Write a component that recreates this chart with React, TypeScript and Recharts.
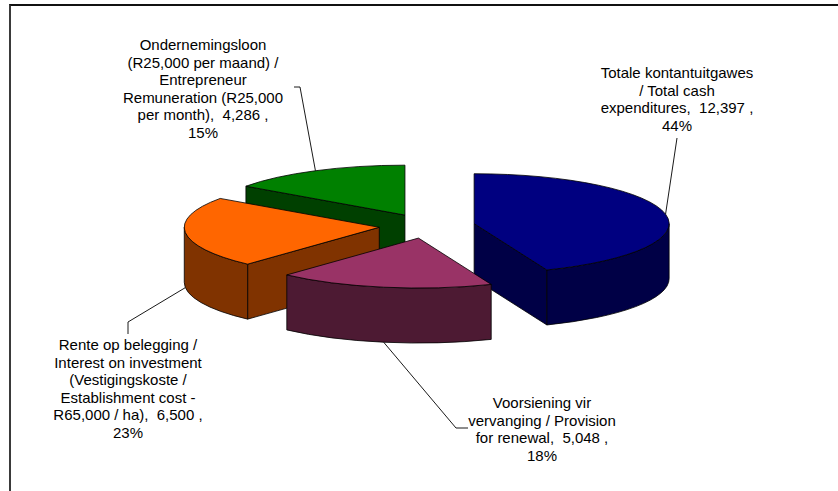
import { PieChart, Pie } from 'recharts'

// slice names, split the way the labels wrap
const nameLines = [
  ['Totale kontantuitgawes', '/ Total cash', 'expenditures'],
  ['Voorsiening vir', 'vervanging / Provision', 'for renewal'],
  ['Rente op belegging /', 'Interest on investment', '(Vestigingskoste /', 'Establishment cost -', 'R65,000 / ha)'],
  ['Ondernemingsloon', '(R25,000 per maand) /', 'Entrepreneur', 'Remuneration (R25,000', 'per month)'],
]
const values = [12397, 5048, 6500, 4286]

const TOP_COLORS = ['#000080', '#993366', '#FF6600', '#008000']
const SIDE_COLORS = ['#000046', '#4D1A33', '#803300', '#004000']

// back-to-front paint order (green, blue, orange, purple)
const DRAW_ORDER = [3, 0, 2, 1]

// label text placement + leader elbows
const labelLayout = [
  { x: 677, y: 78, leader: [[677, 138]] },
  { x: 542, y: 408, leader: [[456, 428], [468, 428]] },
  { x: 128, y: 350, leader: [[128, 322], [128, 334]] },
  { x: 203, y: 50, leader: [[300, 87], [294, 87]] },
]

const FLAT = 0.256
const DEPTH = 55
const EXPLODE = 48
const LINE_H = 17.6
const RAD = Math.PI / 180

const chartData = nameLines.map((lines, i) => ({ name: lines.join(' '), value: values[i] }))

function project(cx: number, cy: number, r: number, deg: number) {
  return [cx + r * Math.cos(deg * RAD), cy - FLAT * r * Math.sin(deg * RAD)]
}

function apexOf(p: any) {
  return project(p.cx, p.cy, EXPLODE, p.midAngle)
}

function Slice3D(p: any) {
  const [ax, ay] = apexOf(p)
  const r = p.outerRadius
  const rx = r
  const ry = r * FLAT
  const pt = (deg: number) => project(ax, ay, r, deg)
  const s = p.startAngle
  const e = p.endAngle
  const i = p.index
  const stroke = { stroke: '#000', strokeWidth: 0.8, strokeLinejoin: 'round' as const }

  const walls: any[] = []
  const radialWall = (a: number, key: string) => {
    const [x, y] = pt(a)
    walls.push(
      <path
        key={key}
        d={`M${ax},${ay} L${x},${y} L${x},${y + DEPTH} L${ax},${ay + DEPTH} Z`}
        fill={SIDE_COLORS[i]}
        {...stroke}
      />
    )
  }
  if (Math.cos(s * RAD) < -0.01) radialWall(s, 'ws')
  if (Math.cos(e * RAD) > 0.01) radialWall(e, 'we')

  const a1 = Math.min(s, 0)
  const a2 = Math.max(e, -180)
  if (a1 > a2) {
    const [x1, y1] = pt(a1)
    const [x2, y2] = pt(a2)
    walls.push(
      <path
        key="wo"
        d={`M${x1},${y1} A${rx},${ry} 0 0 1 ${x2},${y2} L${x2},${y2 + DEPTH} A${rx},${ry} 0 0 0 ${x1},${y1 + DEPTH} Z`}
        fill={SIDE_COLORS[i]}
        {...stroke}
      />
    )
  }

  const [sx, sy] = pt(s)
  const [ex, ey] = pt(e)
  const large = s - e > 180 ? 1 : 0
  return (
    <g>
      {walls}
      <path
        d={`M${ax},${ay} L${sx},${sy} A${rx},${ry} 0 ${large} 1 ${ex},${ey} Z`}
        fill={TOP_COLORS[i]}
        {...stroke}
      />
    </g>
  )
}

const sliceLayer = (which: number) => (props: any) =>
  props.index === which ? <Slice3D {...props} /> : null

function SliceLabel(p: any) {
  const i = p.index
  const lay = labelLayout[i]
  const [ax, ay] = apexOf(p)
  let [lx, ly] = project(ax, ay, p.outerRadius, p.midAngle)
  if (Math.sin(p.midAngle * RAD) < 0) ly += DEPTH
  const pts = [[lx, ly], ...lay.leader].map(q => q.join(',')).join(' ')
  const lines = [...nameLines[i]]
  lines[lines.length - 1] += `,  ${values[i].toLocaleString('en-US')} ,`
  lines.push(`${Math.round(p.percent * 100)}%`)
  return (
    <g>
      <polyline points={pts} fill="none" stroke="#000" strokeWidth={0.9} />
      <text
        x={lay.x}
        y={lay.y}
        textAnchor="middle"
        fontFamily="'Liberation Sans', Arial, sans-serif"
        fontSize={15}
        fill="#000"
        style={{ whiteSpace: 'pre' }}
      >
        {lines.map((t, k) => (
          <tspan key={k} x={lay.x} y={lay.y + k * LINE_H}>
            {t}
          </tspan>
        ))}
      </text>
    </g>
  )
}

export default function App() {
  return (
    <div style={{ position: 'absolute', left: 0, top: 0, width: 838, height: 491, overflow: 'hidden', background: '#fff' }}>
      <div
        style={{
          position: 'absolute',
          left: 9,
          top: 4,
          width: 900,
          height: 600,
          borderLeft: '2px solid #3a3a3a',
          borderTop: '2px solid #111',
        }}
      />
      <div style={{ position: 'absolute', left: 0, top: 0 }}>
        <PieChart width={838} height={491} margin={{ top: 0, right: 0, bottom: 0, left: 0 }}>
          {DRAW_ORDER.map(idx => (
            <Pie
              key={`layer-${idx}`}
              data={chartData}
              dataKey="value"
              nameKey="name"
              cx={427}
              cy={226}
              outerRadius={195}
              startAngle={90}
              endAngle={-270}
              fill="none"
              stroke="none"
              labelLine={false}
              label={sliceLayer(idx)}
              isAnimationActive={false}
            />
          ))}
          <Pie
            data={chartData}
            dataKey="value"
            nameKey="name"
            cx={427}
            cy={226}
            outerRadius={195}
            startAngle={90}
            endAngle={-270}
            fill="none"
            stroke="none"
            labelLine={false}
            label={SliceLabel}
            isAnimationActive={false}
          />
        </PieChart>
      </div>
    </div>
  )
}
